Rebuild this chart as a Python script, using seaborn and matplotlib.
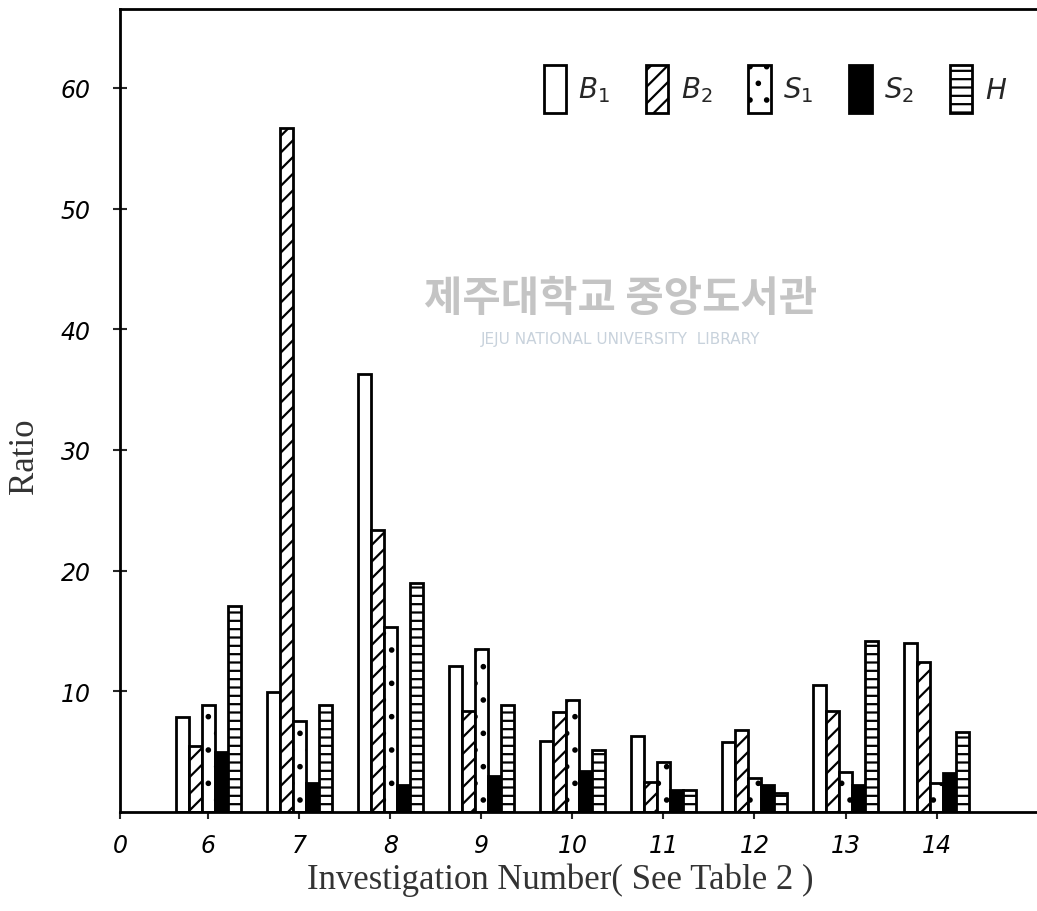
"""Ratio of B1, B2, S1, S2 and H per investigation number."""
import matplotlib
matplotlib.use("Agg")
import pandas as pd
import matplotlib.pyplot as plt
import seaborn as sns
from matplotlib.patches import Patch

investigations = ["6", "7", "8", "9", "10", "11", "12", "13", "14"]
series = ["B1", "B2", "S1", "S2", "H"]
b1 = [7.9, 9.9, 36.3, 12.1, 5.9, 6.3, 5.8, 10.5, 14.0]
b2 = [5.5, 56.7, 23.4, 8.4, 8.3, 2.5, 6.8, 8.4, 12.4]
s1 = [8.9, 7.5, 15.3, 13.5, 9.3, 4.1, 2.8, 3.3, 2.4]
s2 = [5.0, 2.4, 2.2, 3.0, 3.4, 1.8, 2.2, 2.2, 3.2]
h = [17.1, 8.9, 19.0, 8.9, 5.1, 1.8, 1.6, 14.2, 6.6]
legend_labels = [r"$B_1$", r"$B_2$", r"$S_1$", r"$S_2$", r"$H$"]
y_ticks = [10, 20, 30, 40, 50, 60]

FACES = ["white", "white", "white", "black", "white"]
HATCHES = ["", "//", ".", "", "--"]


def main():
    sns.set_style("white")
    plt.rcParams["hatch.linewidth"] = 1.6
    plt.rcParams["hatch.color"] = "black"

    data = pd.DataFrame({
        "investigation": investigations * len(series),
        "series": [s for s in series for _ in investigations],
        "ratio": b1 + b2 + s1 + s2 + h,
    })

    fig = plt.figure(figsize=(10.37, 9.12), dpi=100)
    ax = fig.add_axes([0.1157, 0.1086, 0.884, 0.880])

    sns.barplot(
        data=data, x="investigation", y="ratio", hue="series",
        order=investigations, hue_order=series,
        palette=FACES, width=0.72, edgecolor="black", linewidth=2,
        saturation=1, legend=False, ax=ax,
    )
    for container, hatch in zip(ax.containers, HATCHES):
        for bar in container:
            bar.set_hatch(hatch)

    ax.set_ylim(0, 66.5)
    ax.set_xlim(-0.97, 9.1)
    ax.set_yticks(y_ticks)
    ax.set_yticklabels([str(t) for t in y_ticks], fontstyle="italic", fontsize=17)
    ax.set_xticks([-0.97] + list(range(len(investigations))))
    ax.set_xticklabels(["0"] + investigations, fontstyle="italic", fontsize=17)
    ax.tick_params(axis="y", direction="inout", length=10, width=1.5, pad=16,
                   left=True, labelcolor="black")
    ax.tick_params(axis="x", direction="out", length=5, width=1.5, pad=10,
                   bottom=True, labelcolor="black")

    for side in ["left", "bottom", "top"]:
        ax.spines[side].set_linewidth(2)
        ax.spines[side].set_color("black")
    ax.spines["right"].set_visible(False)
    ax.set_xlabel("")
    ax.set_ylabel("")

    fig.text(0.54, 0.035, "Investigation Number( See Table 2 )", family="Liberation Serif",
             fontsize=25, color="#333333", ha="center", va="center")
    fig.text(0.024, 0.50, "Ratio", family="Liberation Serif", fontsize=25,
             color="#333333", ha="center", va="center", rotation=90)

    handles = [Patch(facecolor=f, edgecolor="black", hatch=hh, linewidth=2)
               for f, hh in zip(FACES, HATCHES)]
    ax.legend(handles, legend_labels, loc="upper right", ncol=5,
              bbox_to_anchor=(0.995, 0.962), frameon=False, fontsize=20,
              handlelength=0.8, handleheight=2.3, columnspacing=1.3,
              handletextpad=0.45)

    fig.text(0.598, 0.672, "제주대학교 중앙도서관", family=["Noto Sans CJK KR", "DejaVu Sans"],
             fontsize=30, color="#c4c4c4", ha="center", va="center", fontweight="bold")
    fig.text(0.598, 0.628, "JEJU NATIONAL UNIVERSITY  LIBRARY", family="DejaVu Sans",
             fontsize=11, color="#c8d2dc", ha="center", va="center")

    fig.savefig("out.png", dpi=100)


if __name__ == "__main__":
    main()
